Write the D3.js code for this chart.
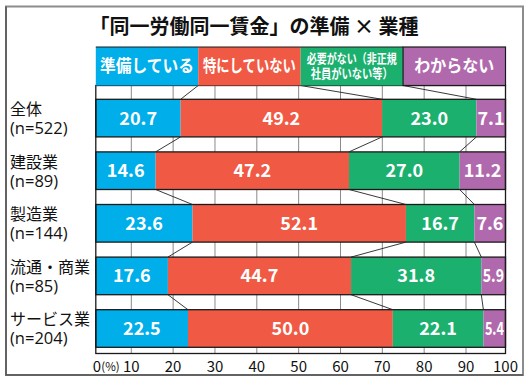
<!DOCTYPE html>
<html><head><meta charset="utf-8">
<script src="https://cdn.jsdelivr.net/npm/d3@7"></script>
<style>
html,body{margin:0;padding:0;background:#fff;}
svg{display:block;font-family:"Noto Sans CJK JP","Noto Sans",sans-serif;}
</style></head>
<body><svg id="c" width="530" height="384"></svg>
<script>
const title = "「同一労働同一賃金」の準備 × 業種";
const categories = ["全体","建設業","製造業","流通・商業","サービス業"];
const sampleSizes = ["(n=522)","(n=89)","(n=144)","(n=85)","(n=204)"];
const seriesNames = ["準備している","特にしていない","必要がない（非正規社員がいない等）","わからない"];
const legendLines = [["準備している"],["特にしていない"],["必要がない（非正規","社員がいない等）"],["わからない"]];
const prepared   = [20.7,14.6,23.6,17.6,22.5];
const notPrepared= [49.2,47.2,52.1,44.7,50.0];
const notNeeded  = [23.0,27.0,16.7,31.8,22.1];
const unknown    = [7.1,11.2,7.6,5.9,5.4];
const tickValues = [0,10,20,30,40,50,60,70,80,90,100];
const colors = ["#00aeea","#f05a45","#1cb06f","#b169ad"];

const svg = d3.select("#c");
const series = [prepared, notPrepared, notNeeded, unknown];

const x = d3.scaleLinear().domain([0,100]).range([95.8,505.5]);
const gx = d3.scaleLinear().domain([10,90]).range([131.3,466]);
const plotTop = 85.5, plotBottom = 353.5;
const y = d3.scaleBand().domain(categories).range([99.3,347.3]).paddingInner(0.285).paddingOuter(0);
const legendX = d3.scaleBand().domain(seriesNames).range([x(0),x(100)]);
const legendTop = 47, legendBottom = plotTop;

// outer frame
svg.append("rect").attr("x",6).attr("y",6.5).attr("width",517).attr("height",368.5)
  .attr("fill","none").attr("stroke","#8c8c8c").attr("stroke-width",2);
svg.append("path").attr("d","M6,6.5V375H523").attr("fill","none").attr("stroke","#555").attr("stroke-width",1.5);

// title
svg.append("text").attr("x",254).attr("y",34).attr("text-anchor","middle")
  .attr("font-size",20).attr("font-weight",700).attr("fill","#111").text(title);

// gridlines
svg.append("g").selectAll("line").data(tickValues.filter(d=>d>0&&d<100)).join("line")
  .attr("x1",d=>gx(d)).attr("x2",d=>gx(d)).attr("y1",plotTop).attr("y2",plotBottom)
  .attr("stroke","#8a8a8a").attr("stroke-width",1);

// stacked data
const stacked = categories.map((c,i)=>{
  let acc=0;
  return series.map((s,k)=>{const v=s[i]; const seg={cat:c,k,v,x0:acc,x1:acc+v}; acc+=v; return seg;});
});

// bars
const rows = svg.append("g").selectAll("g").data(stacked).join("g");
rows.selectAll("rect").data(d=>d).join("rect")
  .attr("x",d=>x(d.x0)).attr("width",d=>x(d.x1)-x(d.x0))
  .attr("y",d=>y(d.cat)).attr("height",y.bandwidth())
  .attr("fill",d=>colors[d.k]);
rows.append("rect").attr("x",x(0)).attr("width",x(100)-x(0))
  .attr("y",d=>y(d[0].cat)).attr("height",y.bandwidth())
  .attr("fill","none").attr("stroke","#1a1a1a").attr("stroke-width",1.3);
rows.selectAll("text").data(d=>d).join("text")
  .attr("x",d=>(x(d.x0)+x(d.x1))/2).attr("y",d=>y(d.cat)+y.bandwidth()/2+6.5)
  .attr("text-anchor","middle").attr("fill","#fff").attr("font-size",18).attr("font-weight",700)
  .each(function(d){
    const w = x(d.x1)-x(d.x0);
    if (w < 26) d3.select(this).attr("textLength",w-3).attr("lengthAdjust","spacingAndGlyphs");
  })
  .text(d=>d.v.toFixed(1));

// connector lines
const conn = [];
for (let b=0;b<3;b++){
  const cum0 = stacked[0][b].x1;
  conn.push([legendX(seriesNames[b+1]), plotTop, x(cum0), y(categories[0])]);
  for (let i=0;i<categories.length-1;i++){
    conn.push([x(stacked[i][b].x1), y(categories[i])+y.bandwidth(), x(stacked[i+1][b].x1), y(categories[i+1])]);
  }
}
svg.append("g").selectAll("line").data(conn).join("line")
  .attr("x1",d=>d[0]).attr("y1",d=>d[1]).attr("x2",d=>d[2]).attr("y2",d=>d[3])
  .attr("stroke","#222").attr("stroke-width",0.9);

// plot border
svg.append("rect").attr("x",x(0)).attr("y",plotTop).attr("width",x(100)-x(0)).attr("height",plotBottom-plotTop)
  .attr("fill","none").attr("stroke","#1a1a1a").attr("stroke-width",1.3);

// legend
const lg = svg.append("g");
lg.selectAll("rect").data(seriesNames).join("rect")
  .attr("x",d=>legendX(d)).attr("width",legendX.bandwidth()).attr("y",legendTop).attr("height",legendBottom-legendTop)
  .attr("fill",(d,i)=>colors[i]);
lg.append("rect").attr("x",legendX(seriesNames[3])).attr("width",legendX.bandwidth()).attr("y",legendTop).attr("height",legendBottom-legendTop)
  .attr("fill","none").attr("stroke","#1a1a1a").attr("stroke-width",1.2);
lg.append("line").attr("x1",x(0)).attr("x2",legendX(seriesNames[3])).attr("y1",legendTop).attr("y2",legendTop)
  .attr("stroke","#1a1a1a").attr("stroke-width",1);
const legendWidths = [[94],[93],[90,82],[80]];
seriesNames.forEach((s,i)=>{
  const lines = legendLines[i];
  const cx = legendX(s)+legendX.bandwidth()/2;
  const cy = (legendTop+legendBottom)/2;
  lines.forEach((t,j)=>{
    const fs = lines.length>1?13:17;
    const ty = lines.length>1 ? cy + (j===0?-7.5:7.5) + 4.5 : cy + 6;
    lg.append("text").attr("x",cx).attr("y",ty).attr("text-anchor","middle")
      .attr("fill","#fff").attr("font-size",fs).attr("font-weight",700)
      .attr("textLength",legendWidths[i][j]).attr("lengthAdjust","spacingAndGlyphs").text(t);
  });
});

// category labels
const lab = svg.append("g");
categories.forEach((c,i)=>{
  const cy = y(c)+y.bandwidth()/2;
  lab.append("text").attr("x",10).attr("y",cy-3).attr("font-size",16).attr("fill","#111").text(c);
  lab.append("text").attr("x",10).attr("y",cy+16).attr("font-size",16.5)
    .attr("font-family","'Open Sans','Noto Sans',sans-serif").attr("fill","#111").text(sampleSizes[i]);
});

// axis labels
const ax = svg.append("g");
ax.selectAll("text").data(tickValues).join("text")
  .attr("x",d=>d===0?x(0)+1:d===100?x(100):gx(d)).attr("y",372)
  .attr("text-anchor","middle").attr("font-size",15).attr("fill","#111")
  .text(d=>d);
ax.append("text").attr("x",x(0)+5.5).attr("y",371).attr("font-size",11.5).attr("fill","#111").text("(%)");
</script></body></html>
